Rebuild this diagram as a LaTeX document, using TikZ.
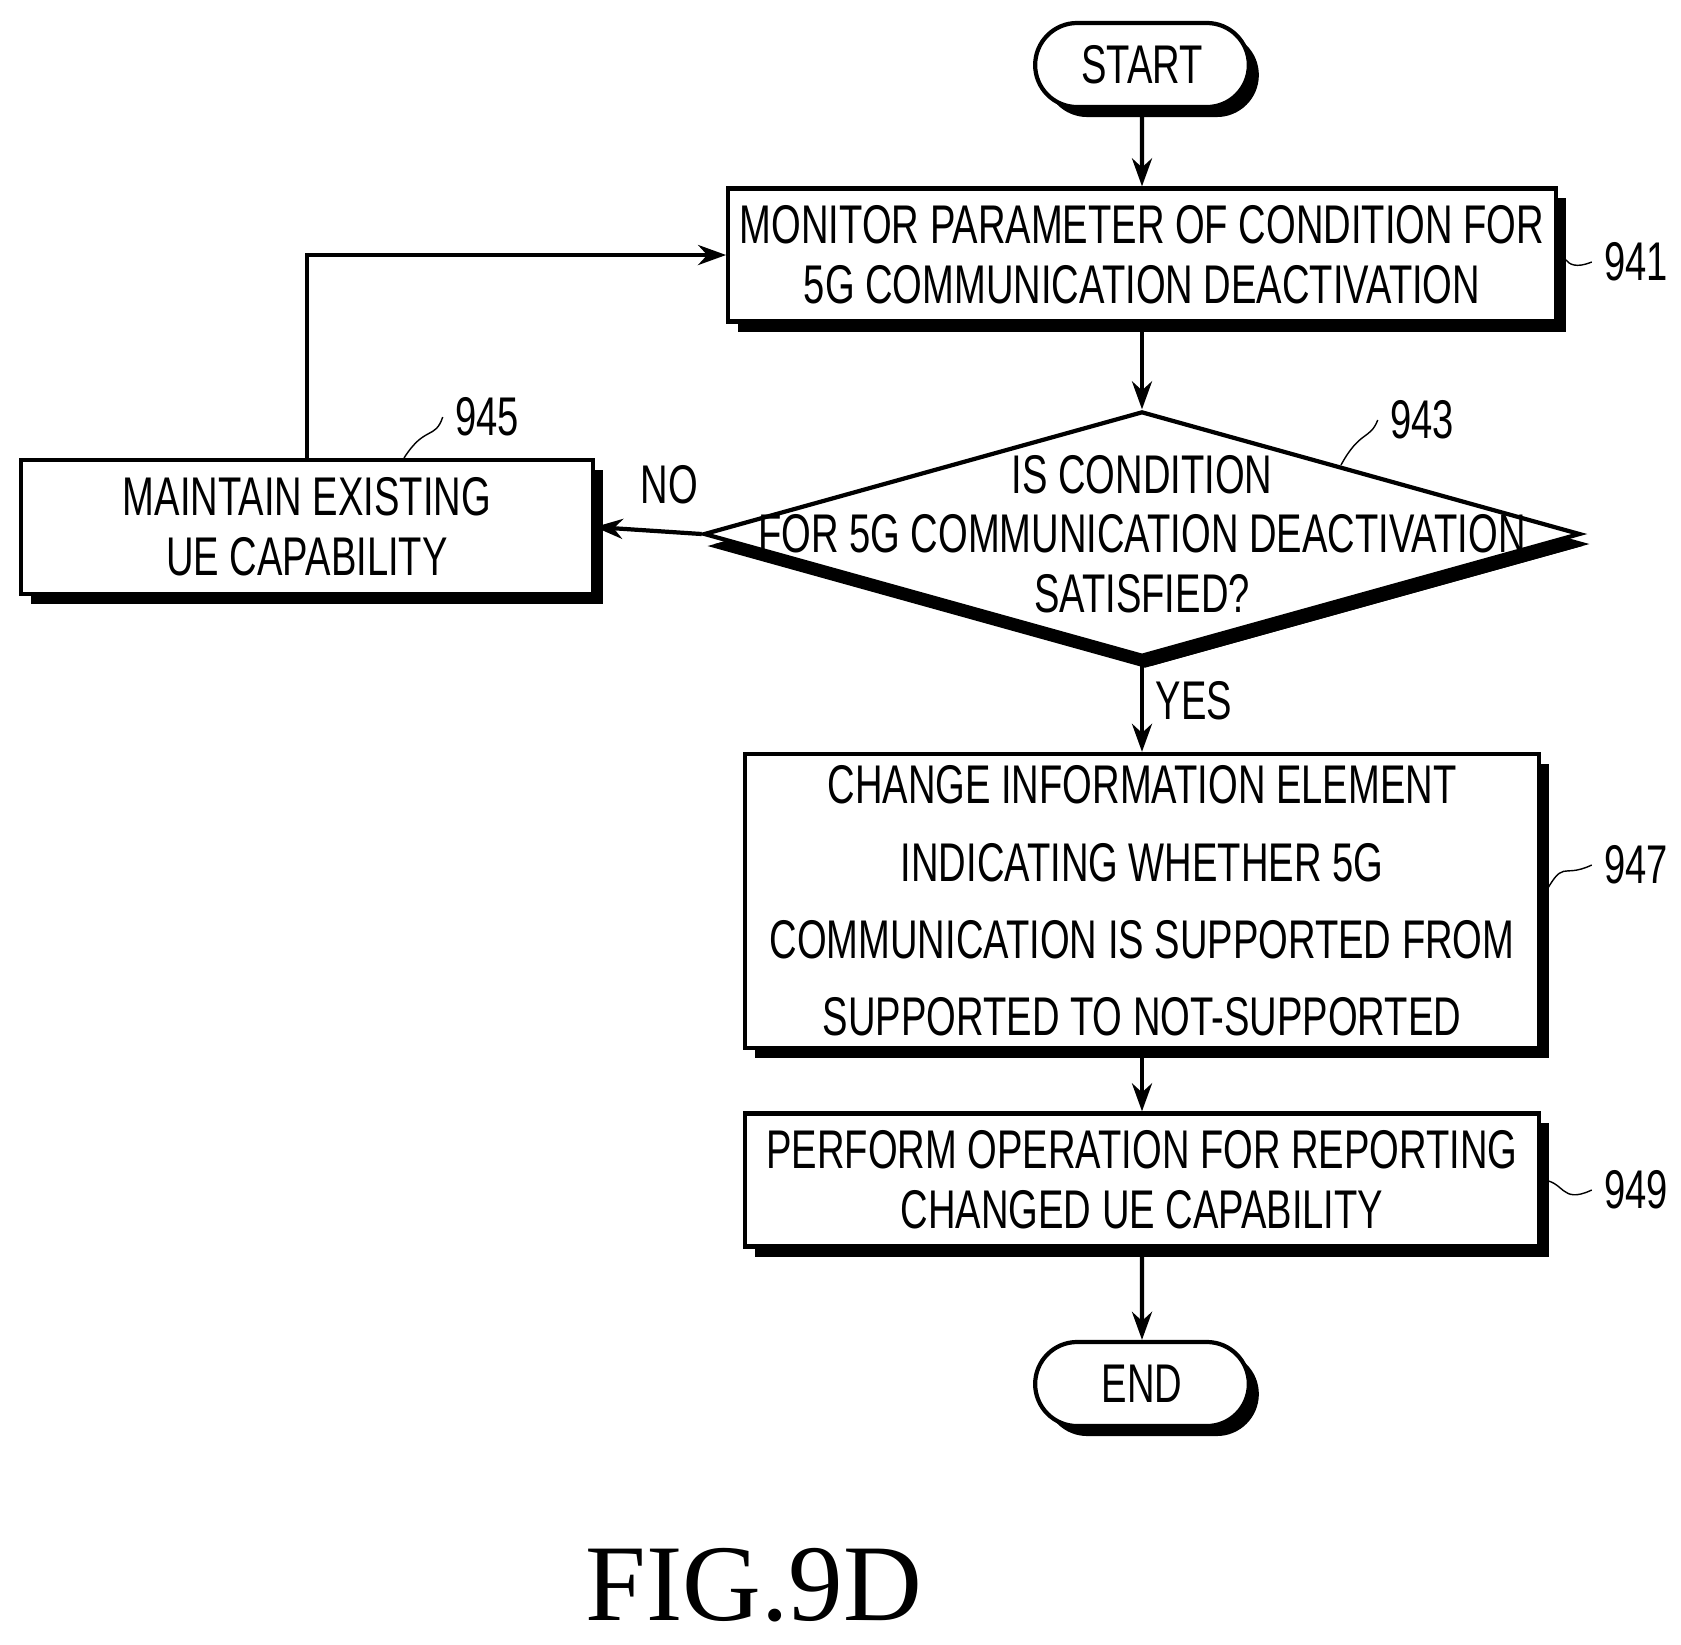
\documentclass[tikz,border=0pt]{standalone}
\usepackage{fontspec}
\setmainfont{Liberation Sans}[FakeStretch=0.7]
\newfontfamily\figfont{Liberation Serif}
\usetikzlibrary{shapes.geometric,shapes.misc,shadows,arrows.meta}
\tikzset{
  box/.style={draw, line width=1.2pt, fill=white, align=center, font=\fontsize{15.5}{17}\selectfont,
    drop shadow={shadow xshift=0.1cm, shadow yshift=-0.1cm, fill=black, opacity=1}},
  term/.style={box, rounded rectangle, minimum width=2.37cm, minimum height=0.84cm},
  lbl/.style={font=\fontsize{15.5}{17}\selectfont},
  arr/.style={-{Stealth[length=0.28cm,width=0.2cm]}, line width=1.2pt}
}
\begin{document}
\begin{tikzpicture}[x=0.01cm,y=-0.01cm]
            \useasboundingbox (0,0) rectangle (1681,1644);
            %Start / End
            \node [term] (start) at (1142,65) {START};
            \node [term] (end) at (1142,1384) {END};
            %Steps
            \node [box, minimum width=7.93cm, minimum height=1.33cm]
            (mon) at (1142,255) {MONITOR PARAMETER OF CONDITION FOR\\5G COMMUNICATION DEACTIVATION};
            \node [box, diamond, aspect=3.58, inner sep=0pt, minimum width=8.76cm, minimum height=2.45cm,
              drop shadow={shadow xshift=0.03cm, shadow yshift=-0.12cm, fill=black, opacity=1}]
            (cond) at (1142,534) {};
            \node [lbl, align=center] (condtxt) at (cond.center) {IS CONDITION\\FOR 5G COMMUNICATION DEACTIVATION\\SATISFIED?};
            \node [box, minimum width=5.71cm, minimum height=1.34cm]
            (keep) at (307,527) {MAINTAIN EXISTING\\UE CAPABILITY};
            \node [box, minimum width=7.93cm, minimum height=2.66cm, font=\fontsize{15.5}{22}\selectfont]
            (chg) at (1142,901) {CHANGE INFORMATION ELEMENT\\INDICATING WHETHER 5G\\COMMUNICATION IS SUPPORTED FROM\\SUPPORTED TO NOT-SUPPORTED};
            \node [box, minimum width=7.93cm, minimum height=1.33cm]
            (rep) at (1142,1180) {PERFORM OPERATION FOR REPORTING\\CHANGED UE CAPABILITY};
            %Reference numbers
            \node [lbl] (n941) at (1636,262) {941};
            \node [lbl] (n943) at (1422,420) {943};
            \node [lbl] (n945) at (487,417) {945};
            \node [lbl] (n947) at (1636,865) {947};
            \node [lbl] (n949) at (1636,1190) {949};
            \draw (mon.east) .. controls (1565,245) and (1560,275) .. (n941.west);
            \draw (chg.east) .. controls (1565,855) and (1560,880) .. (n947.west);
            \draw (rep.east) .. controls (1565,1180) and (1560,1205) .. (n949.west);
            \draw (1341,465) .. controls (1360,430) and (1370,440) .. (n943.west);
            \draw (404,458) .. controls (425,425) and (435,440) .. (n945.west);
            %Arrows
            \draw [arr] (start) -- (mon);
            \draw [arr] (mon) -- (cond);
            \draw [arr] (cond) -- node [lbl, right, pos=0.45] {YES} (chg);
            \draw [arr] (cond.west) -- node [lbl, above=4pt, pos=0.3] {NO} (keep.east);
            \draw [arr] (chg) -- (rep);
            \draw [arr] (rep) -- (end);
            \draw [arr] (keep.north) |- (mon.west);
            \node [font=\figfont\fontsize{31}{33}\selectfont] (fig) at (754,1585) {FIG.9D};
        \end{tikzpicture}
\end{document}
